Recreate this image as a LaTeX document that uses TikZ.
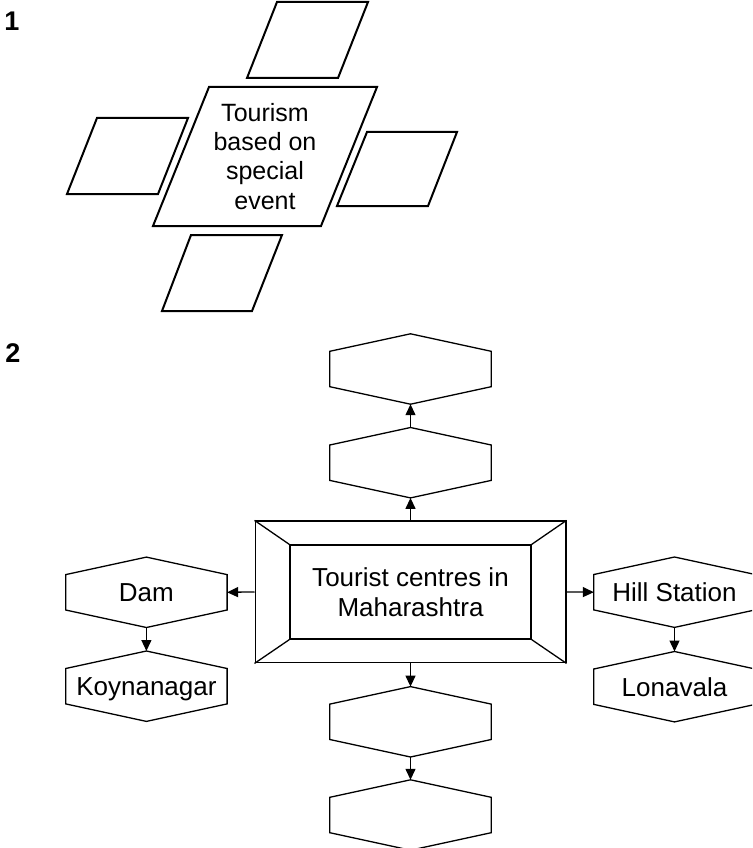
\documentclass[tikz,border=0pt]{standalone}
\usepackage{fontspec}
\setmainfont{Liberation Sans}
\usetikzlibrary{arrows.meta}
\tikzset{
  parabox/.style={draw, line width=2pt, line join=miter},
  thinline/.style={draw, line width=1.3pt, line join=miter},
  hexbox/.style={minimum width=161pt, minimum height=70pt, inner sep=0pt,
    font=\fontsize{26}{30}\selectfont, text height=18.6pt, text depth=0pt},
  arr/.style={line width=1.3pt, -{Triangle[length=11pt,width=10pt]}},
  numlabel/.style={font=\fontsize{27}{30}\selectfont\bfseries, inner sep=0pt},
}
\newcommand\hexshape[1]{\draw[thinline] (#1.north) -- ([yshift=-17.5pt]#1.north east) -- ([yshift=17.5pt]#1.south east) -- (#1.south) -- ([yshift=17.5pt]#1.south west) -- ([yshift=-17.5pt]#1.north west) -- cycle;}
\begin{document}
\begin{tikzpicture}[x=1pt,y=-1pt]
\useasboundingbox (0,0) rectangle (752,848);
\clip (0,0) rectangle (752,848);
\fill[white] (0,0) rectangle (752,848);

% ---------- Part 1 ----------
\node[numlabel] (n1) at (12,21.5) {1};
\draw[parabox] (277,2) -- (368,2) -- (338,78) -- (247,78) -- cycle;
\draw[parabox] (209,87) -- (377,87) -- (321,226) -- (153,226) -- cycle;
\draw[parabox] (97,118) -- (188,118) -- (158,194) -- (67,194) -- cycle;
\draw[parabox] (367,132) -- (457,132) -- (428,206) -- (337,206) -- cycle;
\draw[parabox] (191,235) -- (282,235) -- (252,311) -- (162,311) -- cycle;
\node[align=center, inner sep=0pt, font=\fontsize{25}{29.2}\selectfont] (event) at (265,156.3)
  {Tourism\\based on\\special\\event};

% ---------- Part 2 ----------
\node[numlabel] (n2) at (13,353) {2};

\node[draw, line width=1.3pt, minimum width=310.7pt, minimum height=141.7pt, inner sep=0pt] (outer) at (410.5,591.9) {};
\node[draw, line width=1.3pt, minimum width=241.1pt, minimum height=94pt, inner sep=0pt] (inner) at (410.5,592) {};
\draw[thinline] (outer.north west) -- (inner.north west);
\draw[thinline] (outer.north east) -- (inner.north east);
\draw[thinline] (outer.south west) -- (inner.south west);
\draw[thinline] (outer.south east) -- (inner.south east);
\node[align=center, inner sep=0pt, font=\fontsize{26}{30}\selectfont] (title) at (410.5,592.6)
  {Tourist centres in\\Maharashtra};

\node[hexbox] (A) at (410.5,369) {};
\node[hexbox] (B) at (410.5,462.7) {};
\node[hexbox] (C) at (410.5,721.8) {};
\node[hexbox] (D) at (410.5,815) {};
\node[hexbox] (dam) at (146.4,592.3) {Dam};
\node[hexbox] (koyna) at (146.4,686.2) {Koynanagar};
\node[hexbox] (hill) at (674.5,592.2) {Hill Station};
\node[hexbox] (lona) at (674.5,686.7) {Lonavala};
\hexshape{A}\hexshape{B}\hexshape{C}\hexshape{D}
\hexshape{dam}\hexshape{koyna}\hexshape{hill}\hexshape{lona}

\draw[arr] (B.north) -- (A.south);
\draw[arr] (outer.north) -- (B.south);
\draw[arr] (outer.south) -- (C.north);
\draw[arr] (C.south) -- (D.north);
\draw[arr] (outer.west) -- (dam.east);
\draw[arr] (outer.east) -- (hill.west);
\draw[arr] (dam.south) -- (koyna.north);
\draw[arr] (hill.south) -- (lona.north);
\end{tikzpicture}
\end{document}
